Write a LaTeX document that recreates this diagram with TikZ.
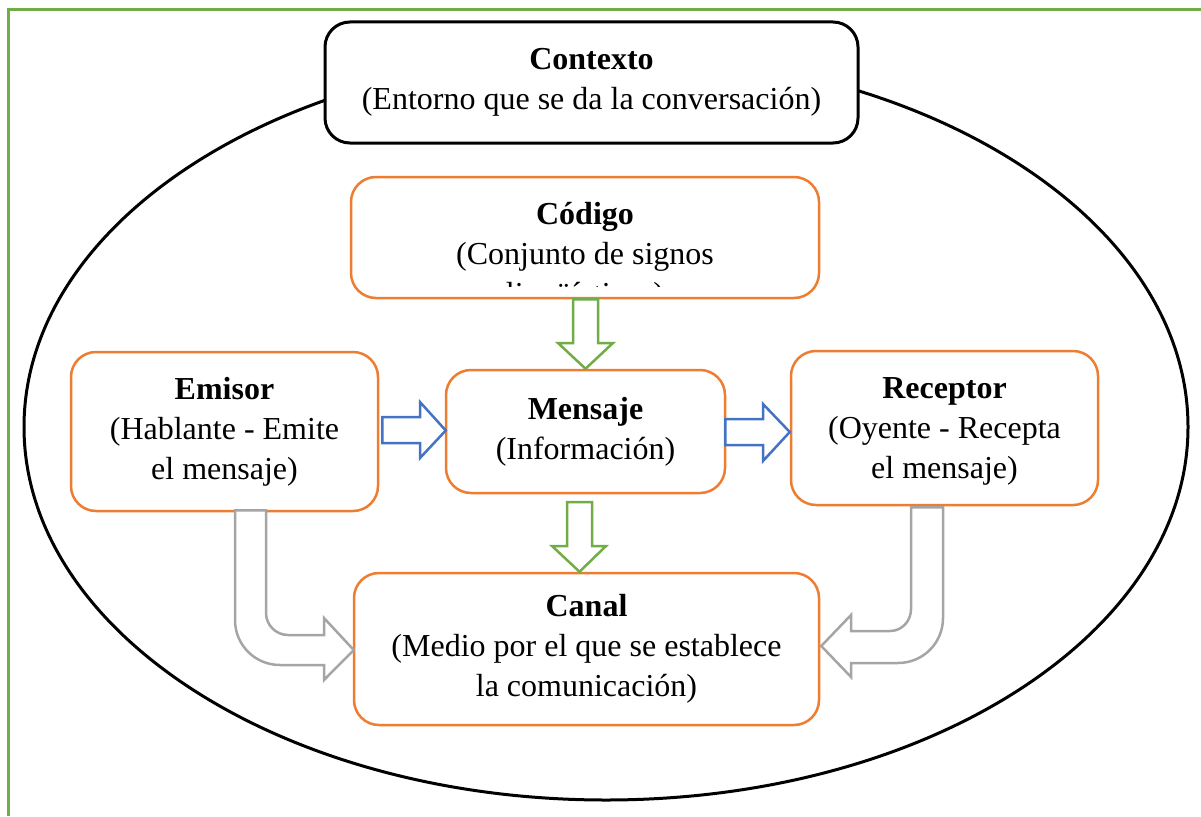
\documentclass[tikz,border=0pt]{standalone}
\usepackage{fontspec}
\setmainfont{Liberation Serif}
\usetikzlibrary{calc}
\definecolor{oran}{HTML}{ED7D31}
\definecolor{grn}{HTML}{70AD47}
\definecolor{blu}{HTML}{4472C4}
\definecolor{gry}{HTML}{A5A5A5}
\tikzset{
  txt/.style={font=\fontsize{32}{40}\selectfont, align=center, inner sep=0pt},
  obox/.style={draw=oran, line width=2.5pt, rounded corners=25pt, fill=white, txt},
  kbox/.style={draw=black, line width=3pt, rounded corners=25pt, fill=white, txt},
  garrow/.style={draw=grn, line width=2.5pt, fill=white, line join=miter},
  barrow/.style={draw=blu, line width=2.5pt, fill=white, line join=miter},
  grarrow/.style={draw=gry, line width=2.5pt, fill=white, line join=miter},
}
\begin{document}
\begin{tikzpicture}[x=1pt,y=-1pt]
\useasboundingbox (0,0) rectangle (1201,816);
% frame
\draw[grn, line width=3pt] (8,816) -- (8,10) -- (1201,10);
% ellipse
\draw[line width=3pt] (606,427) ellipse [x radius=582pt, y radius=373pt];
% context
\node[kbox, minimum width=533pt, minimum height=121pt] (contexto) at (591.5,82.5) {\textbf{Contexto}\\(Entorno que se da la conversación)};
% code box
\node[obox, minimum width=468pt, minimum height=121pt] (codigo) at (585,237.5) {};
\begin{scope}
\clip (353,179) rectangle (817,286);
\node[txt] (codigotxt) at (585,257) {\textbf{Código}\\(Conjunto de signos\\lingüísticos)};
\end{scope}
\node[obox, minimum width=307pt, minimum height=159pt] (emisor) at (224.5,431.5) {\textbf{Emisor}\\(Hablante - Emite\\el mensaje)};
\node[obox, minimum width=279pt, minimum height=123pt] (mensaje) at (585.5,431.5) {\textbf{Mensaje}\\(Información)};
\node[obox, minimum width=307pt, minimum height=154pt] (receptor) at (944.5,428) {};
\node[txt] (receptortxt) at (944.5,431) {\textbf{Receptor}\\(Oyente - Recepta\\el mensaje)};
\node[obox, minimum width=465pt, minimum height=152pt] (canal) at (586.5,649) {\textbf{Canal}\\(Medio por el que se establece\\la comunicación)};
% green arrows
\draw[garrow] ($(codigo.south)+(-12,0)$) -- (573,343) -- (558,343) -- (mensaje.north) -- (613,343) -- (598,343) -- ($(codigo.south)+(13,0)$) -- cycle;
\draw[garrow] (567,502) -- (567,546) -- (552,546) -- ($(canal.north)+(-7,0)$) -- (606,546) -- (592,546) -- (592,502) -- cycle;
% blue arrows
\draw[barrow] ($(emisor.east)+(3,-14.5)$) -- (420,417) -- (420,402) -- ($(mensaje.west)+(1,-1)$) -- (420,458) -- (420,443) -- ($(emisor.east)+(3,11.5)$) -- cycle;
\draw[barrow] ($(mensaje.east)+(-1,-12.5)$) -- (763,419) -- (763,404) -- ($(receptor.west)+(0,4)$) -- (763,461) -- (763,445) -- ($(mensaje.east)+(-1,13.5)$) -- cycle;
% gray bent arrows
\draw[grarrow] ($(emisor.south)+(10.5,-2)$) -- (235,620) .. controls (235,645) and (255,665) .. (280,665) -- (324,665) -- (324,680) -- ($(canal.west)+(1,1)$) -- (324,618) -- (324,635) -- (288,635) .. controls (276,635) and (266,625) .. (266,613) -- ($(emisor.south)+(41.5,-2)$) -- cycle;
\draw[grarrow] ($(receptor.south)+(-1.5,1)$) -- (943,618) .. controls (943,643) and (923,663) .. (898,663) -- (851,663) -- (851,677) -- ($(canal.east)+(1,-3)$) -- (851,615) -- (851,631) -- (890,631) .. controls (902,631) and (911,621) .. (911,609) -- ($(receptor.south)+(-33.5,1)$) -- cycle;
\end{tikzpicture}
\end{document}
